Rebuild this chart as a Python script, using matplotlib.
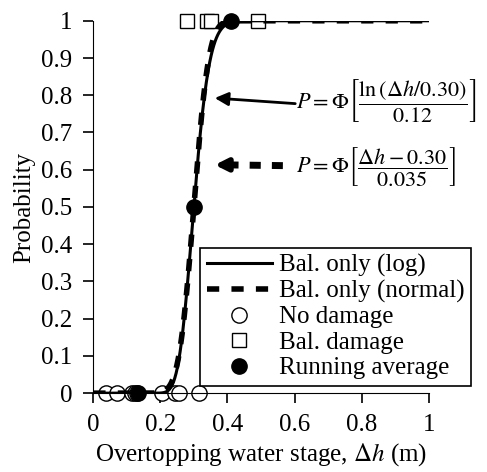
import math
import numpy as np
import matplotlib
matplotlib.use('Agg')
import matplotlib.pyplot as plt

plt.rcParams['font.family'] = 'Liberation Serif'
plt.rcParams['mathtext.fontset'] = 'stix'
plt.rcParams['font.size'] = 18

# observed data
no_damage_x = [0.04, 0.07, 0.115, 0.125, 0.13, 0.205, 0.245, 0.255, 0.315]
no_damage_y = [0, 0, 0, 0, 0, 0, 0, 0, 0]
bal_damage_x = [0.28, 0.34, 0.35, 0.49]
bal_damage_y = [1, 1, 1, 1]
run_avg_x = [0.135, 0.30, 0.41]
run_avg_y = [0.0, 0.5, 1.0]

# fitted fragility parameters (from the equations)
median_log, beta_log = 0.30, 0.12
mean_norm, sigma_norm = 0.30, 0.035


def phi(z):
    return 0.5 * (1 + math.erf(z / math.sqrt(2)))


h = np.linspace(0.001, 1.0, 500)
p_log = np.array([phi(math.log(v / median_log) / beta_log) for v in h])
p_norm = np.array([phi((v - mean_norm) / sigma_norm) for v in h])

fig = plt.figure(figsize=(4.87, 4.72), dpi=100)
ax = fig.add_axes([0.191, 0.167, 0.690, 0.789])

ax.plot(h, p_log, color='black', lw=2.2, label='Bal. only (log)', zorder=3)
ax.plot(h, p_norm, color='black', lw=4, ls=(0, (2.2, 2.2)), label='Bal. only (normal)', zorder=3)
ax.plot(no_damage_x, no_damage_y, 'o', ms=11, mfc='white', mec='black', mew=1,
        ls='none', label='No damage', clip_on=False, zorder=2)
ax.plot(bal_damage_x, bal_damage_y, 's', ms=9.5, mfc='white', mec='black', mew=1,
        ls='none', label='Bal. damage', clip_on=False, zorder=2)
ax.plot(run_avg_x, run_avg_y, 'o', ms=11, mfc='black', mec='black',
        ls='none', label='Running average', clip_on=False, zorder=4)

ax.set_xlim(0, 1)
ax.set_ylim(0, 1)
ax.set_xticks([0, 0.2, 0.4, 0.6, 0.8, 1])
ax.set_xticklabels(['0', '0.2', '0.4', '0.6', '0.8', '1'])
ax.set_yticks(np.arange(0, 1.01, 0.1))
ax.set_yticklabels(['0', '0.1', '0.2', '0.3', '0.4', '0.5', '0.6', '0.7', '0.8', '0.9', '1'])
ax.spines['top'].set_visible(False)
ax.spines['right'].set_visible(False)
ax.tick_params(direction='out', length=7, width=1.2, colors='black')
ax.tick_params(axis='x', pad=8)
ax.tick_params(axis='y', pad=8)
ax.set_xlabel(r'Overtopping water stage, $\Delta h$ (m)', labelpad=4)
ax.set_ylabel('Probability', labelpad=4)

# equation annotations
ax.annotate('', xy=(0.354, 0.793), xytext=(0.61, 0.777),
            arrowprops=dict(arrowstyle='-|>', color='black', lw=2, mutation_scale=20))
ax.text(0.605, 0.785, r'$P=\Phi\left[\dfrac{\ln\left(\Delta h/0.30\right)}{0.12}\right]$',
        fontsize=16, va='center', ha='left')

ax.plot([0.40, 0.565], [0.613, 0.611], color='black', lw=5, ls=(0, (1.6, 1.6)))
ax.annotate('', xy=(0.354, 0.613), xytext=(0.42, 0.613),
            arrowprops=dict(arrowstyle='-|>', color='black', lw=4, mutation_scale=18))
ax.text(0.605, 0.61, r'$P=\Phi\left[\dfrac{\Delta h-0.30}{0.035}\right]$',
        fontsize=16, va='center', ha='left')

leg = ax.legend(loc='lower right', bbox_to_anchor=(1.125, 0.02), fancybox=False,
                edgecolor='black', framealpha=1, handlelength=2.6, borderpad=0.25,
                labelspacing=0.12, handletextpad=0.3, borderaxespad=0)
leg.get_frame().set_linewidth(1.2)

fig.savefig('out.png', dpi=100)
